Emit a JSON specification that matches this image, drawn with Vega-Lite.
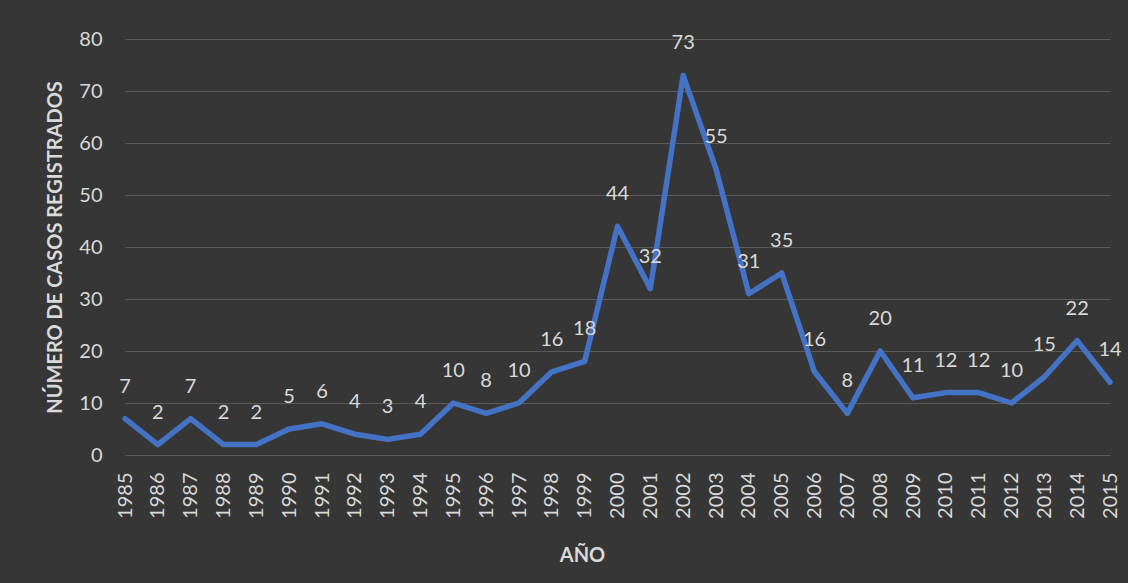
{
  "$schema": "https://vega.github.io/schema/vega-lite/v6.json",
  "width": 985,
  "height": 416,
  "autosize": {"type": "none"},
  "padding": {"left": 125, "top": 39, "right": 18, "bottom": 128},
  "background": "#363636",
  "config": {
    "view": {"stroke": null},
    "font": "Lato",
    "axis": {"labelFont": "Lato", "titleFont": "Lato"}
  },
  "data": {
    "values": [
      {"year": "1985", "casos": 7}, {"year": "1986", "casos": 2}, {"year": "1987", "casos": 7},
      {"year": "1988", "casos": 2}, {"year": "1989", "casos": 2}, {"year": "1990", "casos": 5},
      {"year": "1991", "casos": 6}, {"year": "1992", "casos": 4}, {"year": "1993", "casos": 3},
      {"year": "1994", "casos": 4}, {"year": "1995", "casos": 10}, {"year": "1996", "casos": 8},
      {"year": "1997", "casos": 10}, {"year": "1998", "casos": 16}, {"year": "1999", "casos": 18},
      {"year": "2000", "casos": 44}, {"year": "2001", "casos": 32}, {"year": "2002", "casos": 73},
      {"year": "2003", "casos": 55}, {"year": "2004", "casos": 31}, {"year": "2005", "casos": 35},
      {"year": "2006", "casos": 16}, {"year": "2007", "casos": 8}, {"year": "2008", "casos": 20},
      {"year": "2009", "casos": 11}, {"year": "2010", "casos": 12}, {"year": "2011", "casos": 12},
      {"year": "2012", "casos": 10}, {"year": "2013", "casos": 15}, {"year": "2014", "casos": 22},
      {"year": "2015", "casos": 14}
    ]
  },
  "encoding": {
    "x": {
      "field": "year",
      "type": "ordinal",
      "scale": {"type": "point", "padding": 0},
      "axis": {
        "title": "AÑO",
        "titleFontSize": 20,
        "titleFontWeight": "bold",
        "titleColor": "#d9d9d9",
        "titleX": 457,
        "titleY": 100,
        "titleBaseline": "middle",
        "titleAlign": "center",
        "labelAngle": -90,
        "labelFontSize": 20,
        "labelColor": "#d9d9d9",
        "labelPadding": 17,
        "ticks": false,
        "domain": false,
        "grid": false
      }
    },
    "y": {
      "field": "casos",
      "type": "quantitative",
      "scale": {"domain": [0, 80]},
      "axis": {
        "title": "NÚMERO DE CASOS REGISTRADOS",
        "titleFontSize": 20,
        "titleFontWeight": "bold",
        "titleColor": "#d9d9d9",
        "titleAngle": -90,
        "titleX": -70,
        "titleY": 208,
        "titleBaseline": "middle",
        "titleAlign": "center",
        "values": [0, 10, 20, 30, 40, 50, 60, 70, 80],
        "labelFontSize": 20,
        "labelColor": "#d9d9d9",
        "labelPadding": 23,
        "ticks": false,
        "domain": false,
        "grid": true,
        "gridColor": "#5a5a5a",
        "gridWidth": 1
      }
    }
  },
  "layer": [
    {
      "mark": {"type": "line", "color": "#4472C4", "strokeWidth": 5.5, "strokeJoin": "round", "strokeCap": "round"}
    },
    {
      "mark": {"type": "text", "dy": -32, "fontSize": 20, "color": "#d9d9d9", "align": "center", "baseline": "middle"},
      "encoding": {"text": {"field": "casos", "type": "quantitative"}}
    }
  ]
}
